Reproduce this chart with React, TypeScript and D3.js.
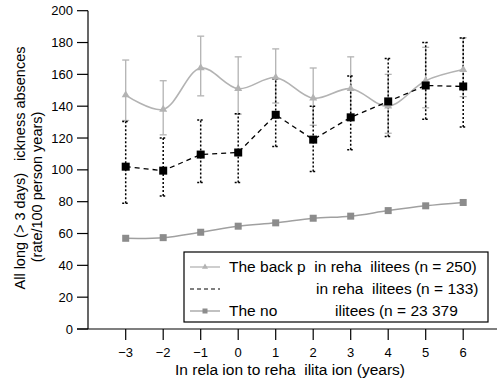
import React, { useEffect, useRef } from "react";
import * as d3 from "d3";

// years relative to rehabilitation
const years = [-3, -2, -1, 0, 1, 2, 3, 4, 5, 6];

// back pain in rehabilitees (n = 250)
const backMean = [147, 138, 164, 151, 158, 145, 151, 140, 156, 163];
const backLow = [131, 122, 146.5, 135, 142, 128, 131, 123, 139, 146];
const backHigh = [169, 156, 184, 171, 176, 164, 171, 160, 177, 183];

// second rehabilitee group (n = 133)
const otherMean = [102, 99.5, 109.6, 110.9, 134.6, 119, 133, 143, 153, 152.4];
const otherLow = [79, 83.6, 92, 92, 114.7, 99, 112.6, 121, 131.8, 127];
const otherHigh = [130.4, 120, 131.4, 135.2, 157, 140, 159, 170, 180, 182.8];

// non-rehabilitees (n = 23 379)
const noneMean = [57, 57.4, 60.8, 64.6, 66.7, 69.6, 70.9, 74.4, 77.4, 79.5];

const yTicks = [0, 20, 40, 60, 80, 100, 120, 140, 160, 180, 200];

const FONT = "'Liberation Sans', Arial, Helvetica, sans-serif";
const W = 497;
const H = 384;

const LIGHT = "#b3b3b3";
const MID = "#8c8c8c";

const App = () => {
  const svgRef = useRef<SVGSVGElement>(null);

  const x = d3.scaleLinear().domain([-3, 6]).range([125.7, 463.2]);
  const y = d3.scaleLinear().domain([0, 200]).range([329, 10.7]);

  useEffect(() => {
    const svg = d3.select(svgRef.current);
    svg.selectAll("*").remove();
    const g = svg.append("g").style("font-family", FONT);

    // axes
    const axisX = 88;
    g.append("line")
      .attr("x1", axisX).attr("x2", axisX)
      .attr("y1", y(200)).attr("y2", y(0))
      .attr("stroke", "#000").attr("stroke-width", 1.2);
    g.append("line")
      .attr("x1", 77).attr("x2", W)
      .attr("y1", y(0)).attr("y2", y(0))
      .attr("stroke", "#000").attr("stroke-width", 1.2);

    yTicks.forEach((t) => {
      g.append("line")
        .attr("x1", 77).attr("x2", axisX)
        .attr("y1", y(t)).attr("y2", y(t))
        .attr("stroke", "#000").attr("stroke-width", 1.2);
      g.append("text")
        .attr("x", 73).attr("y", y(t))
        .attr("dy", "0.35em")
        .attr("text-anchor", "end")
        .attr("font-size", 13)
        .text(t);
    });

    years.forEach((t) => {
      g.append("line")
        .attr("x1", x(t)).attr("x2", x(t))
        .attr("y1", y(0)).attr("y2", y(0) + 11)
        .attr("stroke", "#000").attr("stroke-width", 1.2);
      g.append("text")
        .attr("x", x(t)).attr("y", 357)
        .attr("text-anchor", "middle")
        .attr("font-size", 13)
        .text(t < 0 ? "\u2212" + Math.abs(t) : String(t));
    });

    g.append("text")
      .attr("x", 290).attr("y", 375)
      .attr("text-anchor", "middle")
      .attr("font-size", 15.5)
      .style("white-space", "pre")
      .text("In rela ion to reha  ilita ion (years)");

    g.append("text")
      .attr("transform", "translate(25,168) rotate(-90)")
      .attr("text-anchor", "middle")
      .attr("font-size", 14.5)
      .style("white-space", "pre")
      .text("All long (> 3 days)   ickness absences");
    g.append("text")
      .attr("transform", "translate(42,187) rotate(-90)")
      .attr("text-anchor", "middle")
      .attr("font-size", 14.5)
      .text("(rate/100 person years)");

    // error bars
    const errorBars = (low: number[], high: number[], color: string, dash: string | null) => {
      const eb = g.append("g")
        .attr("stroke", color)
        .attr("stroke-width", dash ? 1.5 : 1.3)
        .attr("fill", "none");
      years.forEach((t, i) => {
        const l = eb.append("line")
          .attr("x1", x(t)).attr("x2", x(t))
          .attr("y1", y(low[i])).attr("y2", y(high[i]));
        if (dash) l.attr("stroke-dasharray", dash);
        [low[i], high[i]].forEach((v) => {
          const c = eb.append("line")
            .attr("x1", x(t) - 3.5).attr("x2", x(t) + 3.5)
            .attr("y1", y(v)).attr("y2", y(v));
          if (dash) c.attr("stroke-dasharray", "2,1.5");
        });
      });
    };
    errorBars(backLow, backHigh, LIGHT, null);
    errorBars(otherLow, otherHigh, "#000", "2,2");

    const smooth = d3.line<number>()
      .x((_, i) => x(years[i]))
      .y((d) => y(d))
      .curve(d3.curveCatmullRom.alpha(0.5));
    const straight = d3.line<number>()
      .x((_, i) => x(years[i]))
      .y((d) => y(d));

    // non-rehabilitees
    g.append("path")
      .attr("d", smooth(noneMean))
      .attr("fill", "none")
      .attr("stroke", "#a0a0a0")
      .attr("stroke-width", 1.5);
    g.selectAll(".sqNone")
      .data(noneMean)
      .enter()
      .append("rect")
      .attr("x", (_, i) => x(years[i]) - 3.5)
      .attr("y", (d) => y(d) - 3.5)
      .attr("width", 7).attr("height", 7)
      .attr("fill", MID);

    // back pain line
    g.append("path")
      .attr("d", smooth(backMean))
      .attr("fill", "none")
      .attr("stroke", LIGHT)
      .attr("stroke-width", 1.6);
    g.selectAll(".triBack")
      .data(backMean)
      .enter()
      .append("path")
      .attr("d", d3.symbol(d3.symbolTriangle, 28)())
      .attr("transform", (d, i) => `translate(${x(years[i])},${y(d)})`)
      .attr("fill", LIGHT);

    // other rehabilitees
    g.append("path")
      .attr("d", straight(otherMean))
      .attr("fill", "none")
      .attr("stroke", "#000")
      .attr("stroke-width", 1.3)
      .attr("stroke-dasharray", "5,4");
    g.selectAll(".sqOther")
      .data(otherMean)
      .enter()
      .append("rect")
      .attr("x", (_, i) => x(years[i]) - 4)
      .attr("y", (d) => y(d) - 4)
      .attr("width", 8).attr("height", 8)
      .attr("fill", "#000");

    // legend
    const lg = g.append("g");
    lg.append("rect")
      .attr("x", 184).attr("y", 252)
      .attr("width", 304).attr("height", 70)
      .attr("fill", "#fff")
      .attr("stroke", "#000")
      .attr("stroke-width", 1.2);
    const rows = [267, 289, 311];
    // row 1
    lg.append("line").attr("x1", 190).attr("x2", 220).attr("y1", rows[0]).attr("y2", rows[0])
      .attr("stroke", LIGHT).attr("stroke-width", 1.3);
    lg.append("path").attr("d", d3.symbol(d3.symbolTriangle, 16)())
      .attr("transform", `translate(205,${rows[0]})`).attr("fill", LIGHT);
    // row 2
    lg.append("line").attr("x1", 190).attr("x2", 220).attr("y1", rows[1]).attr("y2", rows[1])
      .attr("stroke", "#000").attr("stroke-width", 1).attr("stroke-dasharray", "4,3");
    // row 3
    lg.append("line").attr("x1", 190).attr("x2", 220).attr("y1", rows[2]).attr("y2", rows[2])
      .attr("stroke", "#a0a0a0").attr("stroke-width", 1.3);
    lg.append("rect").attr("x", 202.5).attr("y", rows[2] - 2.5).attr("width", 5).attr("height", 5)
      .attr("fill", MID);

    const txt = (tx: number, ty: number, s: string) =>
      lg.append("text").attr("x", tx).attr("y", ty).attr("dy", "0.35em")
        .attr("font-size", 15.5).style("white-space", "pre").text(s);
    txt(229, rows[0], "The back p  in reha  ilitees (n = 250)");
    txt(316, rows[1], "in reha  ilitees (n = 133)");
    txt(229, rows[2], "The no");
    txt(335, rows[2], "ilitees (n = 23 379");
  }, []);

  return (
    <svg
      ref={svgRef}
      width={W}
      height={H}
      style={{ position: "absolute", left: 0, top: 0, background: "#fff" }}
    />
  );
};

export default App;
